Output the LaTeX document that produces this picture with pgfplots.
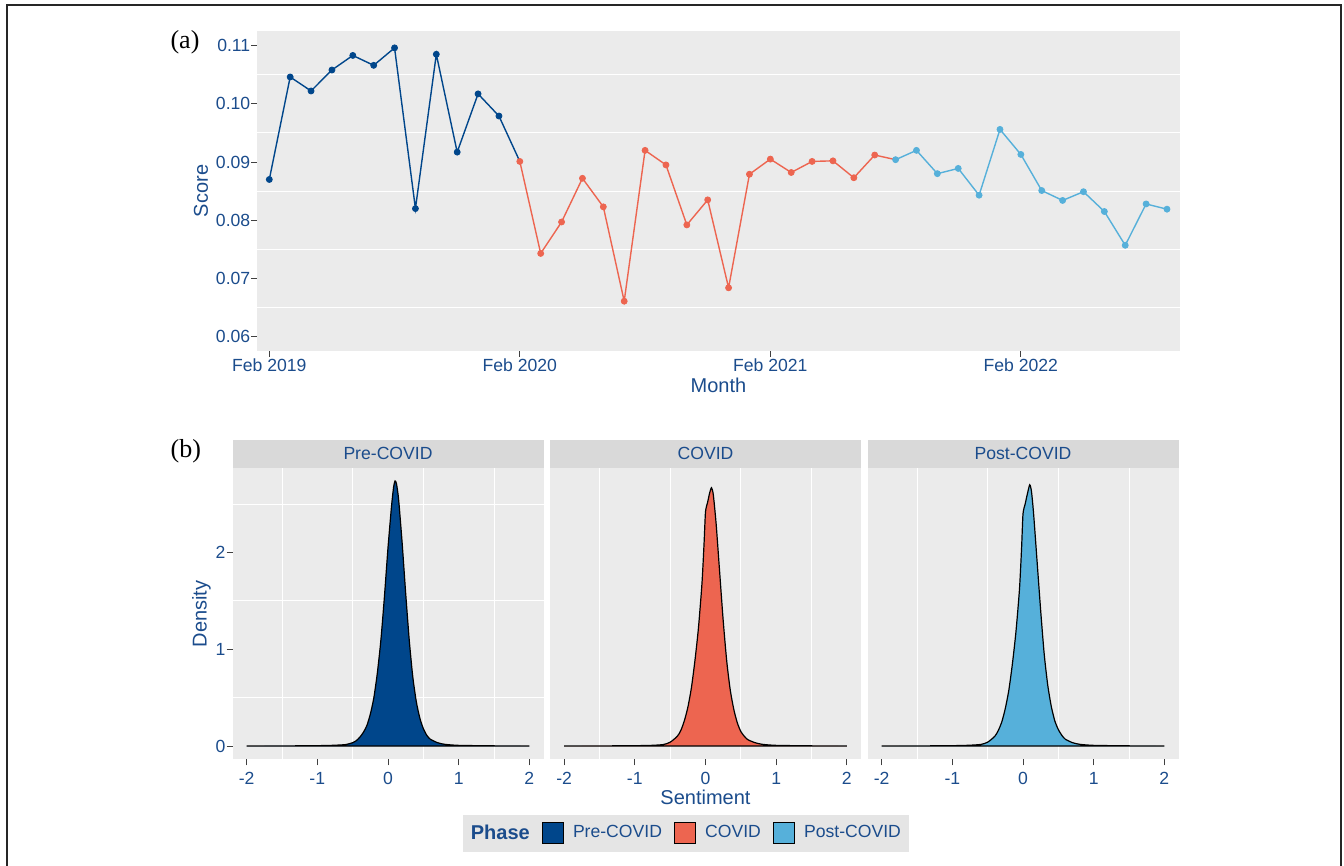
\documentclass[border=0pt]{standalone}
\usepackage{pgfplots}
\pgfplotsset{compat=1.18}
\usepackage{fontspec}
\setmainfont{Liberation Sans}
\newfontfamily\seriffont{Liberation Serif}
\definecolor{preblue}{HTML}{00468B}
\definecolor{covred}{HTML}{ED6550}
\definecolor{postblue}{HTML}{56B0DA}
\definecolor{panelgray}{HTML}{EBEBEB}
\definecolor{stripgray}{HTML}{D9D9D9}
\definecolor{legendgray}{HTML}{E5E5E5}
\definecolor{txtblue}{HTML}{1B4C8C}
\newcommand{\tickfont}{\fontsize{8.8}{10}\selectfont}
\newcommand{\titlefont}{\fontsize{10}{12}\selectfont}

\pgfplotstableread{
x y
-2.00 0
-1.50 0.001
-1.00 0.004
-0.80 0.007
-0.60 0.015
-0.50 0.035
-0.45 0.055
-0.40 0.09
-0.35 0.14
-0.30 0.21
-0.25 0.33
-0.20 0.50
-0.15 0.76
-0.10 1.10
-0.05 1.55
0.00 2.05
0.05 2.48
0.08 2.68
0.10 2.74
0.12 2.71
0.15 2.55
0.20 2.10
0.25 1.58
0.30 1.10
0.35 0.72
0.40 0.46
0.45 0.29
0.50 0.18
0.55 0.11
0.60 0.07
0.70 0.035
0.80 0.018
1.00 0.007
1.50 0.002
2.00 0
}\predens

\pgfplotstableread{
x y
-2.00 0
-1.50 0.001
-1.00 0.004
-0.80 0.006
-0.60 0.015
-0.50 0.04
-0.40 0.10
-0.35 0.16
-0.30 0.26
-0.25 0.40
-0.20 0.60
-0.15 0.88
-0.10 1.22
-0.05 1.68
-0.02 2.10
0.00 2.42
0.03 2.52
0.06 2.62
0.085 2.67
0.11 2.60
0.15 2.30
0.20 1.80
0.25 1.30
0.30 0.88
0.35 0.58
0.40 0.38
0.45 0.24
0.50 0.15
0.55 0.10
0.60 0.065
0.70 0.035
0.80 0.018
1.00 0.007
1.50 0.002
2.00 0
}\covdens

\pgfplotstableread{
x y
-2.00 0
-1.50 0.001
-1.00 0.004
-0.80 0.007
-0.60 0.016
-0.50 0.04
-0.40 0.10
-0.35 0.16
-0.30 0.25
-0.25 0.39
-0.20 0.58
-0.15 0.85
-0.10 1.18
-0.05 1.62
-0.02 2.05
0.00 2.40
0.03 2.50
0.06 2.60
0.095 2.70
0.12 2.63
0.15 2.40
0.20 1.90
0.25 1.40
0.30 0.95
0.35 0.63
0.40 0.41
0.45 0.26
0.50 0.17
0.55 0.11
0.60 0.07
0.70 0.035
0.80 0.018
1.00 0.007
1.50 0.002
2.00 0
}\postdens

\pgfplotsset{
  gg/.style={
    scale only axis, anchor=south west,
    axis background/.style={fill=panelgray},
    axis line style={draw=none},
    tick pos=left, tick align=outside,
    major tick length=3pt, minor tick length=0pt,
    tick style={draw=black!75, line width=0.5pt},
    ticklabel style={font=\tickfont, text=txtblue},
    yticklabel style={xshift=3pt},
    grid=minor, minor grid style={white, line width=0.6pt},
    scaled ticks=false,
  },
  ggd/.style={gg, width=155.5pt, height=145.8pt,
    xmin=-2.2, xmax=2.2, ymin=-0.137, ymax=2.877,
    xtick={-2,-1,0,1,2}, xticklabels={-2,-1,0,1,2},
    minor xtick={-1.5,-0.5,0.5,1.5}, minor ytick={0.5,1.5,2.5},
    minor grid style={white, line width=0.45pt},
  },
  dens/.style={draw=black, line width=0.6pt, smooth, tension=0.4},
}

\begin{document}
\begin{tikzpicture}[x=1pt,y=1pt]
\useasboundingbox (0,0) rectangle (672,433);
\draw[black!85, line width=1pt] (3.35,-5) -- (3.35,430.5) -- (670.35,430.5) -- (670.35,-5);

% ---------- (a) ----------
\begin{axis}[gg, at={(128.65pt,257.65pt)}, width=461.1pt, height=159.85pt,
  xmin=-0.575, xmax=43.6, ymin=0.0576, ymax=0.1125,
  xtick={0,12,24,36}, xticklabels={Feb 2019,Feb 2020,Feb 2021,Feb 2022},
  xticklabel style={yshift=2.5pt},
  ytick={0.06,0.07,0.08,0.09,0.10,0.11},
  yticklabels={0.06,0.07,0.08,0.09,0.10,0.11},
  minor ytick={0.065,0.075,0.085,0.095,0.105},
]
\addplot[preblue, line width=0.7pt] coordinates {
(0,0.0870) (1,0.1046) (2,0.1022) (3,0.1058) (4,0.1083) (5,0.1066) (6,0.1096)
(7,0.0820) (8,0.1085) (9,0.0917) (10,0.1017) (11,0.0979) (12,0.0901)};
\addplot[covred, line width=0.7pt] coordinates {
(12,0.0901) (13,0.0743) (14,0.0797) (15,0.0872) (16,0.0823) (17,0.0661)
(18,0.0920) (19,0.0895) (20,0.0792) (21,0.0835) (22,0.0684) (23,0.0879)
(24,0.0905) (25,0.0882) (26,0.0901) (27,0.0902) (28,0.0873) (29,0.0912) (30,0.0904)};
\addplot[postblue, line width=0.7pt] coordinates {
(30,0.0904) (31,0.0920) (32,0.0880) (33,0.0889) (34,0.0843) (35,0.0956)
(36,0.0913) (37,0.0851) (38,0.0834) (39,0.0849) (40,0.0815) (41,0.0757)
(42,0.0828) (43,0.0819)};
\addplot[only marks, mark=*, mark size=1.5pt, preblue] coordinates {
(0,0.0870) (1,0.1046) (2,0.1022) (3,0.1058) (4,0.1083) (5,0.1066) (6,0.1096)
(7,0.0820) (8,0.1085) (9,0.0917) (10,0.1017) (11,0.0979)};
\addplot[only marks, mark=*, mark size=1.5pt, covred] coordinates {
(12,0.0901) (13,0.0743) (14,0.0797) (15,0.0872) (16,0.0823) (17,0.0661)
(18,0.0920) (19,0.0895) (20,0.0792) (21,0.0835) (22,0.0684) (23,0.0879)
(24,0.0905) (25,0.0882) (26,0.0901) (27,0.0902) (28,0.0873) (29,0.0912)};
\addplot[only marks, mark=*, mark size=1.5pt, postblue] coordinates {
(30,0.0904) (31,0.0920) (32,0.0880) (33,0.0889) (34,0.0843) (35,0.0956)
(36,0.0913) (37,0.0851) (38,0.0834) (39,0.0849) (40,0.0815) (41,0.0757)
(42,0.0828) (43,0.0819)};
\end{axis}
\node[rotate=90, font=\titlefont, text=txtblue] at (100.5,337.5) {Score};
\node[font=\titlefont, text=txtblue] at (359.2,240.5) {Month};
\node[font=\seriffont\fontsize{13}{15}\selectfont] at (92.5,411.75) {(a)};

% ---------- (b) ----------
\begin{axis}[ggd, at={(116.25pt,53.35pt)},
  ytick={0,1,2}, yticklabels={0,1,2},
]
\addplot[dens, fill=preblue] table[x=x,y=y] {\predens} \closedcycle;
\end{axis}
\begin{axis}[ggd, at={(275pt,53.35pt)},
  ytick=\empty,
  legend columns=4,
  legend style={at={(0.437,-0.2538)}, anchor=center, fill=legendgray, draw=none,
    inner xsep=2pt, inner ysep=3pt, font=\tickfont, text=txtblue,
    /tikz/every odd column/.append style={column sep=2.5pt},
    /tikz/every even column/.append style={column sep=4pt}},
  legend image code/.code={\draw[#1, draw=black, line width=0.6pt] (0pt,-5.25pt) rectangle (10.5pt,5.25pt);},
]
\addlegendimage{empty legend}
\addlegendentry{\hspace*{-2.5pt}\fontsize{10}{12}\selectfont\bfseries Phase}
\addlegendimage{fill=preblue}
\addlegendentry{Pre-COVID}
\addlegendimage{fill=covred}
\addlegendentry{COVID}
\addlegendimage{fill=postblue}
\addlegendentry{Post-COVID}
\addplot[dens, fill=covred, forget plot] table[x=x,y=y] {\covdens} \closedcycle;
\end{axis}
\begin{axis}[ggd, at={(433.75pt,53.35pt)},
  ytick=\empty,
]
\addplot[dens, fill=postblue] table[x=x,y=y] {\postdens} \closedcycle;
\end{axis}

\fill[stripgray] (116.25,199.15) rectangle (271.75,213);
\fill[stripgray] (275,199.15) rectangle (430.5,213);
\fill[stripgray] (433.75,199.15) rectangle (589.25,213);
\node[font=\tickfont, text=txtblue] at (194,206.1) {Pre-COVID};
\node[font=\tickfont, text=txtblue] at (352.75,206.1) {COVID};
\node[font=\tickfont, text=txtblue] at (511.5,206.1) {Post-COVID};

\node[rotate=90, font=\titlefont, text=txtblue] at (100.75,126) {Density};
\node[font=\titlefont, text=txtblue] at (352.75,34.5) {Sentiment};
\node[font=\seriffont\fontsize{13}{15}\selectfont] at (92.9,207.6) {(b)};
\end{tikzpicture}
\end{document}
